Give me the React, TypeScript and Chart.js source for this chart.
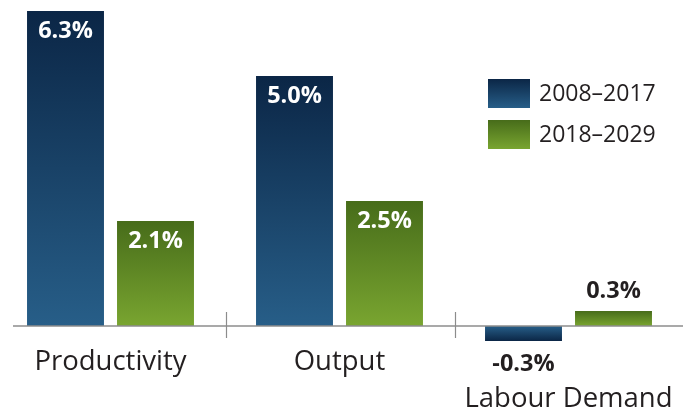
import React, { useEffect, useRef } from "react";
import { Chart, registerables } from "chart.js";

Chart.register(...registerables);

const categories = ["Productivity", "Output", "Labour Demand"];
const seriesLabels = ["2008–2017", "2018–2029"];
const values2008 = [6.3, 5.0, -0.3];
const values2018 = [2.1, 2.5, 0.3];
const valueText2008 = ["6.3%", "5.0%", "-0.3%"];
const valueText2018 = ["2.1%", "2.5%", "0.3%"];

const BLUE_DARK = "#0b2646";
const BLUE_LIGHT = "#275e88";
const GREEN_DARK = "#476c1a";
const GREEN_LIGHT = "#79a530";
const TEXT_DARK = "#231f20";
const FONT = "'Open Sans', 'Noto Sans', sans-serif";

function barGradient(dark: string, light: string) {
  return (ctx: any) => {
    const chart = ctx.chart;
    const area = chart.chartArea;
    const ys = chart.scales && chart.scales.y;
    if (!area || !ys || ctx.type !== "data") return light;
    const v = ctx.raw as number;
    const tip = ys.getPixelForValue(v);
    const base = ys.getPixelForValue(0);
    if (Math.abs(tip - base) < 1) return light;
    const g = chart.ctx.createLinearGradient(0, tip, 0, base);
    g.addColorStop(0, dark);
    g.addColorStop(1, light);
    return g;
  };
}

const overlayPlugin = {
  id: "overlay",
  afterDatasetsDraw(chart: any) {
    const ctx = chart.ctx;
    const xs = chart.scales.x;
    const ys = chart.scales.y;
    const area = chart.chartArea;
    const zero = ys.getPixelForValue(0);
    ctx.save();

    // baseline
    ctx.strokeStyle = "#8c8c8c";
    ctx.lineWidth = 1.5;
    ctx.beginPath();
    ctx.moveTo(area.left + 17, zero);
    ctx.lineTo(area.right + 1, zero);
    ctx.stroke();

    // category separators
    const cw = xs.getPixelForValue(1) - xs.getPixelForValue(0);
    for (let i = 0; i < categories.length - 1; i++) {
      const x = Math.round(xs.getPixelForValue(i) + cw / 2) + 1.5;
      ctx.lineWidth = 1.2;
      ctx.beginPath();
      ctx.moveTo(x, zero - 14);
      ctx.lineTo(x, zero + 12);
      ctx.stroke();
    }

    // value labels
    const texts = [valueText2008, valueText2018];
    ctx.font = `bold 23.5px ${FONT}`;
    ctx.textAlign = "center";
    ctx.textBaseline = "middle";
    chart.data.datasets.forEach((ds: any, di: number) => {
      const meta = chart.getDatasetMeta(di);
      meta.data.forEach((bar: any, j: number) => {
        const v = ds.data[j];
        const t = texts[di][j];
        if (v < 0) {
          ctx.fillStyle = TEXT_DARK;
          ctx.fillText(t, bar.x, bar.y + 23);
        } else if (v < 1) {
          ctx.fillStyle = TEXT_DARK;
          ctx.fillText(t, bar.x, bar.y - 20);
        } else {
          ctx.fillStyle = "#ffffff";
          ctx.fillText(t, bar.x, bar.y + 20);
        }
      });
    });

    // category labels
    ctx.font = `27.5px ${FONT}`;
    ctx.fillStyle = TEXT_DARK;
    ctx.textBaseline = "alphabetic";
    categories.forEach((c, i) => {
      const x = xs.getPixelForValue(i);
      const low = values2008[i] < 0 || values2018[i] < 0;
      ctx.fillText(c, x, low ? 407 : 370);
    });

    // legend
    const cols = [
      [BLUE_DARK, BLUE_LIGHT],
      [GREEN_DARK, GREEN_LIGHT],
    ];
    const lx = 492;
    const rows = [79, 120];
    ctx.font = `23px ${FONT}`;
    ctx.textAlign = "left";
    ctx.textBaseline = "middle";
    seriesLabels.forEach((s, i) => {
      const y = rows[i];
      const g = ctx.createLinearGradient(0, y, 0, y + 29);
      g.addColorStop(0, cols[i][0]);
      g.addColorStop(1, cols[i][1]);
      ctx.fillStyle = g;
      ctx.fillRect(lx, y, 42, 29);
      ctx.fillStyle = TEXT_DARK;
      ctx.fillText(s, lx + 51, y + 15);
    });

    ctx.restore();
  },
};

export default function App() {
  const ref = useRef<HTMLCanvasElement | null>(null);
  useEffect(() => {
    if (!ref.current) return;
    const chart = new Chart(ref.current, {
      type: "bar",
      data: {
        labels: categories,
        datasets: [
          {
            label: seriesLabels[0],
            data: values2008,
            backgroundColor: barGradient(BLUE_DARK, BLUE_LIGHT),
            borderWidth: 0,
          },
          {
            label: seriesLabels[1],
            data: values2018,
            backgroundColor: barGradient(GREEN_DARK, GREEN_LIGHT),
            borderWidth: 0,
          },
        ],
      },
      options: {
        animation: false,
        responsive: false,
        maintainAspectRatio: false,
        layout: { padding: { top: 11, bottom: 70, left: 0, right: 0 } },
        datasets: {
          bar: { categoryPercentage: 0.786, barPercentage: 0.855 },
        },
        plugins: {
          legend: { display: false },
          tooltip: { enabled: false },
        },
        scales: {
          x: { display: false },
          y: { display: false, min: -0.3, max: 6.3 },
        },
      },
      plugins: [overlayPlugin],
    });
    return () => chart.destroy();
  }, []);
  return (
    <div style={{ position: "absolute", left: -4, top: 0, width: 687, height: 411, background: "#fff" }}>
      <canvas ref={ref} width={687} height={411} style={{ display: "block" }} />
    </div>
  );
}
